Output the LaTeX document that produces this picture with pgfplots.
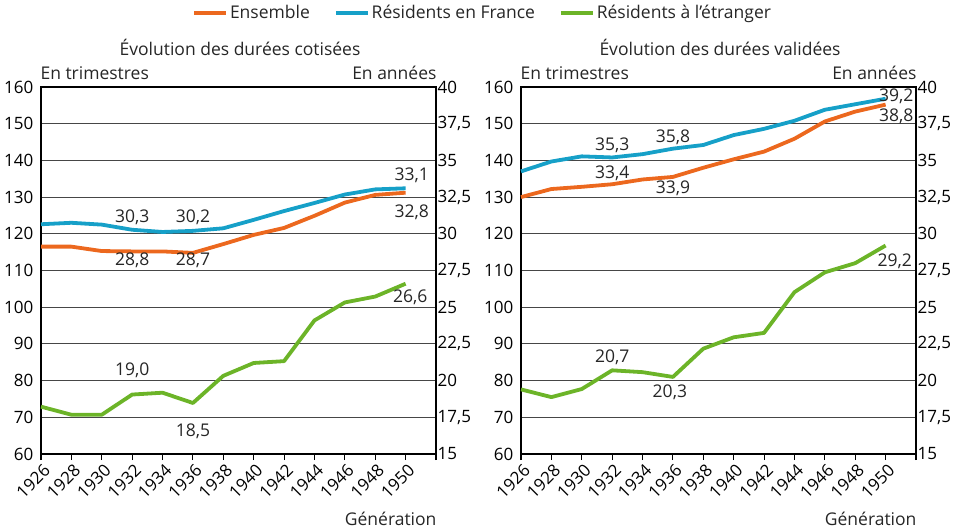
\documentclass[border=0pt]{standalone}
\usepackage{pgfplots}
\pgfplotsset{compat=1.18}
\usepackage{fontspec}
\setmainfont{Open Sans}
\definecolor{cOr}{RGB}{236,104,30}
\definecolor{cBl}{RGB}{22,160,200}
\definecolor{cGr}{RGB}{108,180,40}
\definecolor{cGrid}{RGB}{70,70,70}
\tikzset{lab/.style={font=\fontsize{17.5}{19}\selectfont, text=black!85}}
\pgfplotsset{
  base/.style={scale only axis, width=395pt, height=367pt, anchor=south west,
    xmin=1926, xmax=1952, ymin=60, ymax=160, clip=false,
    font=\fontsize{17}{19}\selectfont,
    axis line style={black, line width=1.1pt},
    xtick={1926,1928,...,1952},
    xticklabels={1926,1928,1930,1932,1934,1936,1938,1940,1942,1944,1946,1948,1950,{}},
    x tick label style={rotate=45, anchor=north east, inner sep=1pt, yshift=-2pt},
    xtick pos=bottom, tick align=outside, major tick length=6pt,
    every tick/.style={black, line width=1.1pt},
    ytick={60,70,...,160}, ytick pos=left, ytick style={draw=none},
    ymajorgrids, grid style={cGrid, line width=1.1pt},
    yticklabel style={/pgf/number format/assume math mode=true, inner sep=1.5pt},
    every axis plot/.append style={line width=3.8pt, line join=round},
  },
  rax/.style={scale only axis, width=395pt, height=367pt, anchor=south west,
    xmin=1926, xmax=1952, ymin=15, ymax=40,
    font=\fontsize{17}{19}\selectfont,
    axis y line*=right, axis x line=none,
    axis line style={black, line width=1.1pt},
    ytick={15,17.5,...,40}, ytick style={draw=none},
    yticklabel style={/pgf/number format/assume math mode=true, /pgf/number format/use comma, /pgf/number format/fixed, /pgf/number format/precision=1, inner sep=1.5pt},
  },
}
\begin{document}
\begin{tikzpicture}
\useasboundingbox (0pt,0pt) rectangle (962pt,531pt);
% ---------------- left panel
\begin{axis}[base, at={(41pt,77pt)},
  legend style={at={(1.118,1.202)}, anchor=center, draw=none, fill=none,
    legend columns=3, font=\fontsize{17.5}{19}\selectfont, text=black!85,
    /tikz/every even column/.append style={column sep=22pt}},
  legend image code/.code={\draw[#1, line width=3.8pt] (0pt,0pt) -- (32pt,0pt);},
]
\addplot[cOr] coordinates {(1926,116.5)(1928,116.5)(1930,115.3)(1932,115.2)(1934,115.2)(1936,114.8)(1938,117.2)(1940,119.7)(1942,121.6)(1944,124.9)(1946,128.5)(1948,130.6)(1950,131.2)};
\addlegendentry{Ensemble}
\addplot[cBl] coordinates {(1926,122.6)(1928,123.0)(1930,122.5)(1932,121.1)(1934,120.5)(1936,120.8)(1938,121.5)(1940,123.8)(1942,126.2)(1944,128.4)(1946,130.7)(1948,132.1)(1950,132.4)};
\addlegendentry{Résidents en France}
\addplot[cGr] coordinates {(1926,72.9)(1928,70.7)(1930,70.7)(1932,76.2)(1934,76.7)(1936,73.9)(1938,81.3)(1940,84.8)(1942,85.3)(1944,96.4)(1946,101.3)(1948,102.9)(1950,106.4)};
\addlegendentry{Résidents à l’étranger}
\node[lab] at (axis cs:1932,124.6) {30,3};
\node[lab] at (axis cs:1936,124.6) {30,2};
\node[lab] at (axis cs:1932,112.9) {28,8};
\node[lab] at (axis cs:1936,112.9) {28,7};
\node[lab] at (axis cs:1950.4,136.0) {33,1};
\node[lab] at (axis cs:1950.4,125.8) {32,8};
\node[lab] at (axis cs:1932,82.7) {19,0};
\node[lab] at (axis cs:1936,66.3) {18,5};
\node[lab] at (axis cs:1950.3,102.8) {26,6};
\end{axis}
\begin{axis}[rax, at={(41pt,77pt)}]
\end{axis}
% ---------------- right panel
\begin{axis}[base, at={(521pt,77pt)}]
\addplot[cOr] coordinates {(1926,130.0)(1928,132.2)(1930,132.8)(1932,133.5)(1934,134.8)(1936,135.5)(1938,138.0)(1940,140.3)(1942,142.4)(1944,145.9)(1946,150.6)(1948,153.3)(1950,155.2)};
\addplot[cBl] coordinates {(1926,137.0)(1928,139.7)(1930,141.1)(1932,140.8)(1934,141.7)(1936,143.2)(1938,144.2)(1940,146.9)(1942,148.6)(1944,150.8)(1946,153.8)(1948,155.3)(1950,156.8)};
\addplot[cGr] coordinates {(1926,77.6)(1928,75.5)(1930,77.7)(1932,82.8)(1934,82.3)(1936,81.0)(1938,88.7)(1940,91.8)(1942,93.0)(1944,104.1)(1946,109.5)(1948,112.0)(1950,116.8)};
\node[lab] at (axis cs:1932,144.2) {35,3};
\node[lab] at (axis cs:1936,146.3) {35,8};
\node[lab] at (axis cs:1932,136.5) {33,4};
\node[lab] at (axis cs:1936,132.4) {33,9};
\node[lab] at (axis cs:1950.7,157.4) {39,2};
\node[lab] at (axis cs:1950.7,151.9) {38,8};
\node[lab] at (axis cs:1950.6,112.4) {29,2};
\node[lab] at (axis cs:1932,86.3) {20,7};
\node[lab] at (axis cs:1935.8,76.8) {20,3};
\end{axis}
\begin{axis}[rax, at={(521pt,77pt)}]
\end{axis}
% ---------------- texts
\begin{scope}[every node/.style={lab}]
\node at (240pt,484pt) {Évolution des durées cotisées};
\node at (720pt,484pt) {Évolution des durées validées};
\node[anchor=west] at (37pt,458pt) {En trimestres};
\node[anchor=east] at (440pt,458pt) {En années};
\node[anchor=west] at (517pt,458pt) {En trimestres};
\node[anchor=east] at (920pt,458pt) {En années};
\node[anchor=east] at (440pt,12pt) {Génération};
\node[anchor=east] at (920pt,12pt) {Génération};
\end{scope}
\end{tikzpicture}
\end{document}
